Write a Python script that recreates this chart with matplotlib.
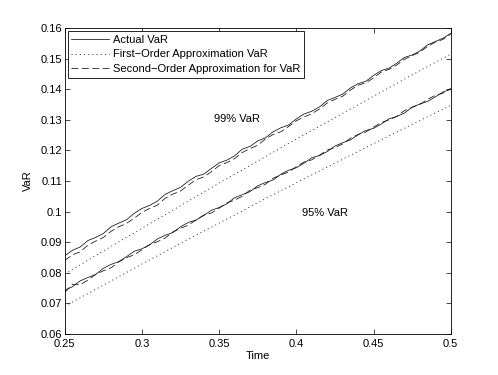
import numpy as np
import matplotlib
matplotlib.use("Agg")
import matplotlib.pyplot as plt

plt.rcParams['font.family'] = ['Liberation Sans', 'DejaVu Sans']
plt.rcParams['font.size'] = 8
plt.rcParams['lines.scale_dashes'] = False

# time grid for the simulated curves
t = np.linspace(0.25, 0.5, 51)
# coarse grid for the smooth first-order curves
t_coarse = np.linspace(0.25, 0.5, 11)

actual_99 = [0.0855, 0.0873, 0.0884, 0.0905, 0.0915, 0.0928, 0.0950, 0.0962, 0.0973, 0.0994,
             0.1010, 0.1020, 0.1034, 0.1056, 0.1068, 0.1079, 0.1099, 0.1115, 0.1122, 0.1141,
             0.1159, 0.1168, 0.1182, 0.1204, 0.1213, 0.1231, 0.1241, 0.1261, 0.1274, 0.1283,
             0.1303, 0.1319, 0.1328, 0.1342, 0.1363, 0.1373, 0.1384, 0.1404, 0.1418, 0.1426,
             0.1445, 0.1461, 0.1469, 0.1485, 0.1504, 0.1512, 0.1525, 0.1545, 0.1556, 0.1567,
             0.1583]
second_99 = [0.0840, 0.0858, 0.0868, 0.0890, 0.0903, 0.0915, 0.0935, 0.0950, 0.0961, 0.0978,
             0.0997, 0.1010, 0.1021, 0.1043, 0.1057, 0.1067, 0.1086, 0.1104, 0.1113, 0.1130,
             0.1150, 0.1160, 0.1173, 0.1193, 0.1206, 0.1217, 0.1237, 0.1252, 0.1261, 0.1278,
             0.1297, 0.1309, 0.1320, 0.1335, 0.1355, 0.1367, 0.1377, 0.1397, 0.1413, 0.1421,
             0.1437, 0.1456, 0.1465, 0.1479, 0.1498, 0.1510, 0.1521, 0.1540, 0.1554, 0.1563,
             0.1580]
first_99 = [0.0795, 0.0871, 0.0945, 0.1019, 0.1093, 0.1165, 0.1237, 0.1307, 0.1377, 0.1447, 0.1515]

actual_95 = [0.0742, 0.0754, 0.0773, 0.0784, 0.0794, 0.0814, 0.0827, 0.0836, 0.0852, 0.0870,
             0.0878, 0.0891, 0.0910, 0.0922, 0.0931, 0.0950, 0.0964, 0.0972, 0.0987, 0.1004,
             0.1013, 0.1025, 0.1045, 0.1055, 0.1065, 0.1084, 0.1095, 0.1103, 0.1122, 0.1135,
             0.1143, 0.1158, 0.1176, 0.1183, 0.1196, 0.1214, 0.1225, 0.1234, 0.1251, 0.1265,
             0.1272, 0.1286, 0.1303, 0.1311, 0.1322, 0.1341, 0.1352, 0.1360, 0.1375, 0.1391,
             0.1400]
second_95 = [0.0735, 0.0762, 0.0761, 0.0775, 0.0794, 0.0806, 0.0816, 0.0835, 0.0849, 0.0858,
             0.0875, 0.0892, 0.0901, 0.0913, 0.0933, 0.0945, 0.0955, 0.0972, 0.0988, 0.0995,
             0.1011, 0.1028, 0.1037, 0.1050, 0.1070, 0.1078, 0.1089, 0.1109, 0.1120, 0.1129,
             0.1147, 0.1162, 0.1169, 0.1184, 0.1201, 0.1209, 0.1221, 0.1240, 0.1252, 0.1260,
             0.1276, 0.1291, 0.1300, 0.1311, 0.1330, 0.1341, 0.1350, 0.1367, 0.1380, 0.1387,
             0.1403]
first_95 = [0.0690, 0.0759, 0.0828, 0.0896, 0.0962, 0.1029, 0.1094, 0.1158, 0.1222, 0.1285, 0.1347]

labels = ['Actual VaR', 'First\u2212Order Approximation VaR', 'Second\u2212Order Approximation for VaR']

fig = plt.figure(figsize=(4.98, 3.75), dpi=100)
ax = fig.add_axes([0.13, 0.11, 0.775, 0.815])

lw = 0.55
dot = (0, (0.8, 2.2))
dash = (0, (5, 2.5))
ax.plot(t, actual_99, color='#111111', lw=lw, label=labels[0])
ax.plot(t_coarse, first_99, color='#111111', lw=lw, linestyle=dot, label=labels[1])
ax.plot(t, second_99, color='#111111', lw=lw, linestyle=dash, label=labels[2])
ax.plot(t, actual_95, color='#111111', lw=lw)
ax.plot(t_coarse, first_95, color='#111111', lw=lw, linestyle=dot)
ax.plot(t, second_95, color='#111111', lw=lw, linestyle=dash)

ax.text(0.3614, 0.1302, '99% VaR', ha='center', va='center')
ax.text(0.4184, 0.0995, '95% VaR', ha='center', va='center')

ax.set_xlim(0.25, 0.5)
ax.set_ylim(0.06, 0.16)
ax.set_xticks(np.arange(0.25, 0.5001, 0.05))
ax.set_xticklabels(['0.25', '0.3', '0.35', '0.4', '0.45', '0.5'])
ax.set_yticks(np.arange(0.06, 0.1601, 0.01))
ax.set_yticklabels(['0.06', '0.07', '0.08', '0.09', '0.1', '0.11', '0.12', '0.13', '0.14', '0.15', '0.16'])
ax.tick_params(direction='in', top=True, right=True, length=3.5, width=0.5)
ax.tick_params(axis='x', pad=3.5)
ax.tick_params(axis='y', pad=2)
for s in ax.spines.values():
    s.set_linewidth(0.6)
ax.set_xlabel('Time', labelpad=1.5)
ax.set_ylabel('VaR', labelpad=5)

leg = ax.legend(loc='upper left', fancybox=False, edgecolor='black', framealpha=1,
                handlelength=3.4, handletextpad=0.3, borderpad=0.35, labelspacing=0.42,
                borderaxespad=0.25)
leg.get_frame().set_linewidth(0.6)

fig.savefig('out.png', dpi=100)
